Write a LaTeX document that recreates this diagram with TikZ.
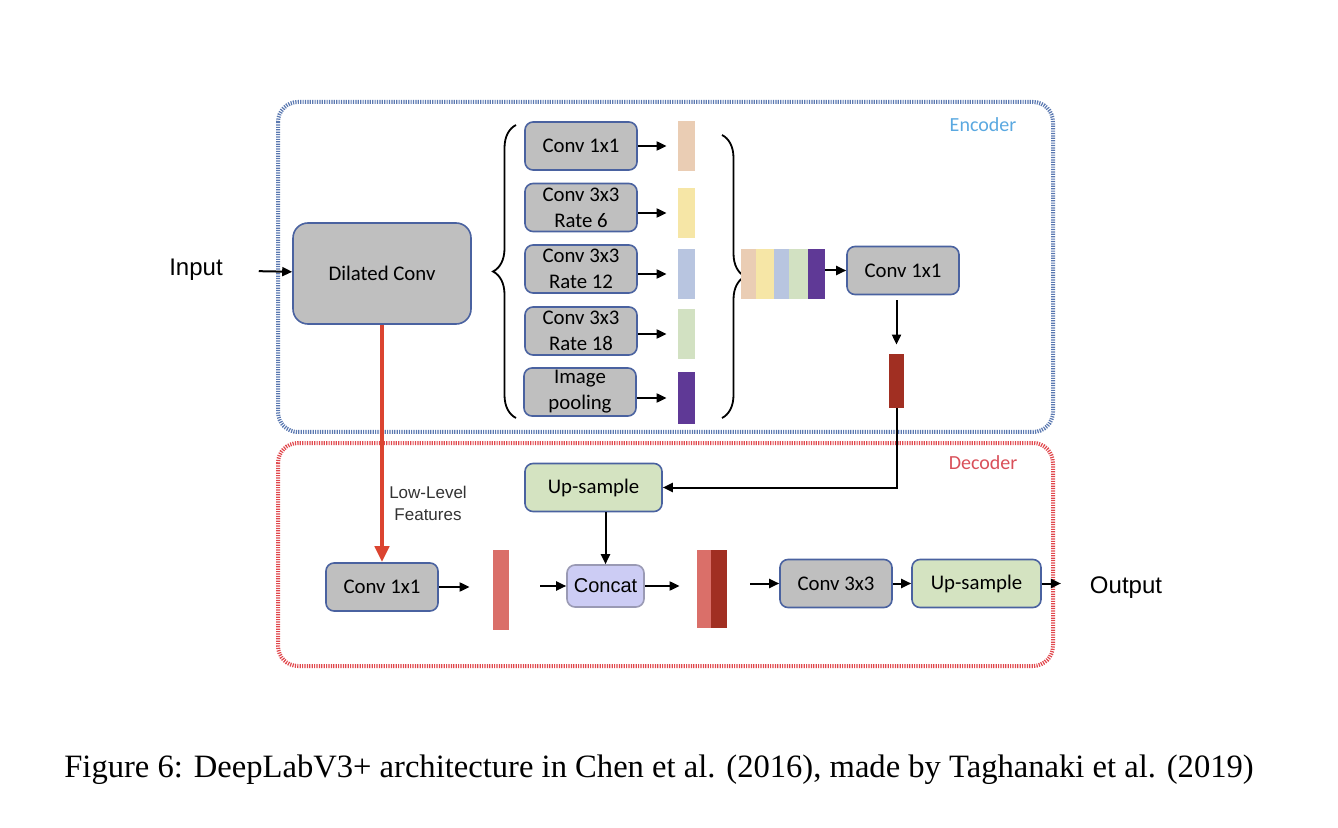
\documentclass[tikz,border=0pt]{standalone}
\usepackage{fontspec}
\setmainfont{Carlito}
\newfontfamily\arialfont{Liberation Sans}
\newfontfamily\timesfont{Liberation Serif}
\usepackage{tikz}
\usetikzlibrary{arrows.meta,positioning,decorations.pathreplacing}
\definecolor{boxgray}{HTML}{BFBFBF}
\definecolor{boxedge}{HTML}{4A62A0}
\definecolor{upgreen}{HTML}{D4E3C1}
\definecolor{catfill}{HTML}{CCCCF4}
\definecolor{catedge}{HTML}{9A9AB4}
\definecolor{encblue}{HTML}{5A78B0}
\definecolor{enctext}{HTML}{5AA8E0}
\definecolor{decred}{HTML}{E0474C}
\definecolor{dectext}{HTML}{D9505A}
\definecolor{fpeach}{HTML}{EACDB4}
\definecolor{fyellow}{HTML}{F6E6A6}
\definecolor{fblue}{HTML}{B8C5E0}
\definecolor{fgreen}{HTML}{D2E1C2}
\definecolor{fpurple}{HTML}{5F3996}
\definecolor{fdark}{HTML}{A12F22}
\definecolor{fsalmon}{HTML}{DA6F69}
\definecolor{lowred}{HTML}{DB4430}
\tikzset{
  layer/.style={draw=boxedge,thick,rounded corners=4pt,fill=boxgray,align=center,
    minimum width=56pt,minimum height=24pt,inner sep=1pt,
    font=\fontsize{10.4}{13}\selectfont},
  upbox/.style={layer,fill=upgreen},
  fmap/.style={draw=none,inner sep=0pt,minimum width=8.5pt,minimum height=25pt},
  frame/.style={line width=2pt,dash pattern=on 0.6pt off 0.6pt,rounded corners=10pt},
  arr/.style={-{Triangle[length=5pt,width=4.5pt]},line width=1pt,draw=black},
  lowarr/.style={-{Triangle[length=8pt,width=7pt]},line width=2pt,draw=lowred},
  brc/.style={decorate,decoration={brace,amplitude=11.5pt},line width=0.9pt},
  io/.style={font=\arialfont\fontsize{12}{14}\selectfont}
}

\begin{document}
\begin{tikzpicture}[x=0.5pt,y=-0.5pt]
 \useasboundingbox (0,0) rectangle (1338,828);
 % frames
 \draw[frame,draw=encblue] (278,102) rectangle (1053,432);
 \draw[frame,draw=decred] (278,443) rectangle (1053,666);
 \node[text=enctext,font=\fontsize{10}{12}\selectfont] (enc) at (983,125) {Encoder};
 \node[text=dectext,font=\fontsize{10}{12}\selectfont] (dec) at (983,463) {Decoder};

 % encoder
 \node[io] (in) at (196,270) {Input};
 \node[layer,rounded corners=7.5pt,minimum width=89pt,minimum height=50.5pt] (dil) at (382,273.5) {Dilated Conv};
 \node[layer] (b1) at (581,146) {Conv 1x1};
 \node[layer] (b2) at (581,207.5) {Conv 3x3\\Rate 6};
 \node[layer] (b3) at (581,269) {Conv 3x3\\Rate 12};
 \node[layer] (b4) at (581,331) {Conv 3x3\\Rate 18};
 \node[layer] (b5) at (580,392) {Image\\pooling};
 \node[fmap,fill=fpeach] (f1) at (686.5,146) {};
 \node[fmap,fill=fyellow] (f2) at (686.5,213) {};
 \node[fmap,fill=fblue] (f3) at (686.5,274) {};
 \node[fmap,fill=fgreen] (f4) at (686.5,334) {};
 \node[fmap,fill=fpurple,minimum height=26pt] (f5) at (686.5,398) {};
 \draw[brc] (516,418) -- (516,125);
 \draw[brc] (722,135) -- (722,418);
 \node[fmap,fill=fpeach,minimum width=7.5pt] (s1) at (748.5,274) {};
 \node[fmap,fill=fyellow,minimum width=9pt] (s2) at (765,274) {};
 \node[fmap,fill=fblue,minimum width=7.5pt] (s3) at (781.5,274) {};
 \node[fmap,fill=fgreen,minimum width=9.5pt] (s4) at (798.5,274) {};
 \node[fmap,fill=fpurple] (s5) at (816.5,274) {};
 \node[layer] (c1) at (903,270.5) {Conv 1x1};
 \node[fmap,fill=fdark,minimum width=7.5pt,minimum height=27pt] (enc_out) at (896.5,381) {};

 % decoder
 \node[upbox,minimum width=68.5pt] (up1) at (593.5,487.5) {Up-sample};
 \node[layer] (c2) at (382,587) {Conv 1x1};
 \node[fmap,fill=fsalmon,minimum width=8pt,minimum height=40pt] (low) at (501,590) {};
 \node[layer,fill=catfill,draw=catedge,minimum width=38.5pt,minimum height=21pt,
   font=\arialfont\fontsize{10}{12}\selectfont] (cat) at (605.5,586) {Concat};
 \node[fmap,fill=fsalmon,minimum width=7pt,minimum height=39pt] (m1) at (704,589) {};
 \node[fmap,fill=fdark,minimum width=8pt,minimum height=39pt] (m2) at (719,589) {};
 \node[layer] (c3) at (836,583.5) {Conv 3x3};
 \node[upbox,minimum width=64.5pt] (up2) at (976.5,583.5) {Up-sample};
 \node[io] (out) at (1126,588) {Output};
 \node[font=\arialfont\fontsize{8.5}{11}\selectfont,text=black!80,align=center] (llf) at (428,503) {Low-Level\\Features};

 \node[font=\timesfont\fontsize{16.3}{19}\selectfont] (cap) at (659,770)
   {Figure 6: DeepLabV3+ architecture in Chen et al. (2016), made by Taghanaki et al. (2019)};

 % connections
 \draw[arr,shorten <=14.5pt] (in) -- (dil);
 \draw[arr,shorten >=5.5pt] (b1) -- (f1.west |- b1);
 \draw[arr,shorten >=5.5pt] (b2.east |- f2) -- (f2);
 \draw[arr,shorten >=5.5pt] (b3.east |- f3) -- (f3);
 \draw[arr,shorten >=5.5pt] (b4.east |- f4) -- (f4);
 \draw[arr,shorten >=5.5pt] (b5.east |- f5) -- (f5);
 \draw[arr] (s5.east |- c1) -- (c1);
 \draw[arr,shorten <=2.5pt,shorten >=4.5pt] (c1.south -| enc_out) -- (enc_out);
 \draw[arr] (enc_out.south) |- (up1);
 \draw[arr] (up1.south -| cat) -- (cat);
 \draw[lowarr] (dil) -- (c2);
 \draw[arr,shorten >=11.5pt] (c2) -- (low.west |- c2);
 \draw[arr,shorten <=15.5pt] (low.east |- cat) -- (cat);
 \draw[arr,shorten >=8.5pt] (cat) -- (m1.west |- cat);
 \draw[arr,shorten <=11.5pt] (m2.east |- c3) -- (c3);
 \draw[arr] (c3) -- (up2);
 \draw[arr,shorten >=11pt] (up2) -- (out.west |- up2);
\end{tikzpicture}
\end{document}
